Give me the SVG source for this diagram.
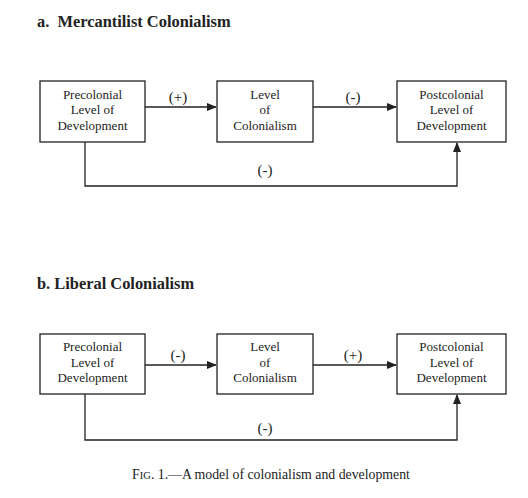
<svg xmlns="http://www.w3.org/2000/svg" width="528" height="498" viewBox="0 0 528 498">
<style>
text{font-family:"Liberation Serif","Times New Roman",serif;fill:#222}
.t{font-size:16.4px;font-weight:bold}
.n{font-size:13px;text-anchor:middle}
.l{font-size:15px;text-anchor:middle}
.box{fill:#fff;stroke:#222;stroke-width:1.3}
.ln{fill:none;stroke:#222;stroke-width:1.3}
</style>
<defs>
<marker id="ah" markerWidth="10" markerHeight="8" refX="9" refY="4" orient="auto" markerUnits="userSpaceOnUse">
<path d="M0,0 L10,4 L0,8 Z" fill="#222"/>
</marker>
</defs>
<rect width="528" height="498" fill="#fff"/>
<text class="t" x="37" y="27" xml:space="preserve">a.  Mercantilist Colonialism</text>
<text class="t" x="37" y="289">b. Liberal Colonialism</text>

<g id="connectors">
<path class="ln" d="M145,107 H216" marker-end="url(#ah)"/>
<path class="ln" d="M313,107 H396" marker-end="url(#ah)"/>
<path class="ln" d="M85,142 V186 H457 V143" marker-end="url(#ah)"/>
<path class="ln" d="M145,365 H216" marker-end="url(#ah)"/>
<path class="ln" d="M313,365 H396" marker-end="url(#ah)"/>
<path class="ln" d="M85,394 V440 H457 V395" marker-end="url(#ah)"/>
<text class="l" x="178" y="102">(+)</text>
<text class="l" x="353" y="102">(-)</text>
<text class="l" x="265" y="175">(-)</text>
<text class="l" x="178" y="360">(-)</text>
<text class="l" x="353" y="360">(+)</text>
<text class="l" x="265" y="433">(-)</text>
</g>

<g id="a-pre">
<rect class="box" x="40" y="81" width="105" height="61"/>
<text class="n" x="92.5" y="99">Precolonial</text>
<text class="n" x="92.5" y="114">Level of</text>
<text class="n" x="92.5" y="130">Development</text>
</g>
<g id="a-col">
<rect class="box" x="217" y="81" width="96" height="61"/>
<text class="n" x="265" y="99">Level</text>
<text class="n" x="265" y="114">of</text>
<text class="n" x="265" y="130">Colonialism</text>
</g>
<g id="a-post">
<rect class="box" x="397" y="81" width="109" height="61"/>
<text class="n" x="451.5" y="99">Postcolonial</text>
<text class="n" x="451.5" y="114">Level of</text>
<text class="n" x="451.5" y="130">Development</text>
</g>

<g id="b-pre">
<rect class="box" x="40" y="334" width="105" height="60"/>
<text class="n" x="92.5" y="351">Precolonial</text>
<text class="n" x="92.5" y="367">Level of</text>
<text class="n" x="92.5" y="382">Development</text>
</g>
<g id="b-col">
<rect class="box" x="217" y="334" width="96" height="60"/>
<text class="n" x="265" y="351">Level</text>
<text class="n" x="265" y="367">of</text>
<text class="n" x="265" y="382">Colonialism</text>
</g>
<g id="b-post">
<rect class="box" x="397" y="334" width="109" height="60"/>
<text class="n" x="451.5" y="351">Postcolonial</text>
<text class="n" x="451.5" y="367">Level of</text>
<text class="n" x="451.5" y="382">Development</text>
</g>

<text x="271" y="479" style="font-size:13.8px;text-anchor:middle">F<tspan style="font-size:10.5px">IG</tspan>. 1.—A model of colonialism and development</text>
</svg>
